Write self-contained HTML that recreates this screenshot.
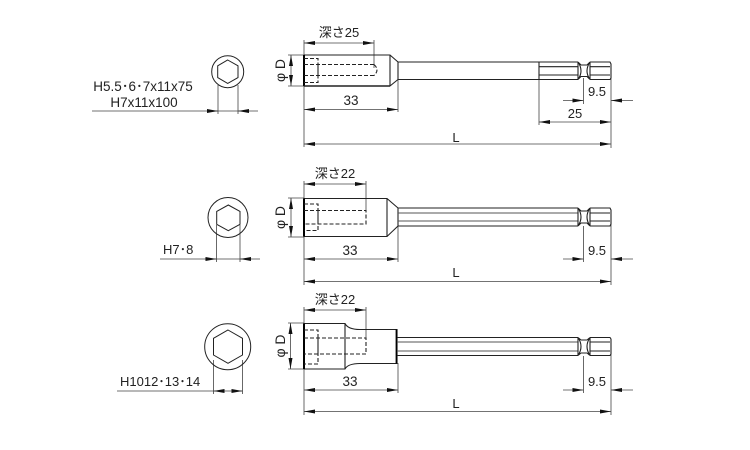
<!DOCTYPE html>
<html><head><meta charset="utf-8"><style>
html,body{margin:0;padding:0;background:#fff}
svg{display:block}
text{font-family:"Liberation Sans","Noto Sans CJK JP",sans-serif;font-size:13px;fill:#222}
</style></head><body>
<svg width="750" height="450" viewBox="0 0 750 450" xmlns="http://www.w3.org/2000/svg">
<defs>
<marker id="a" viewBox="0 0 11 4" refX="11" refY="2" markerWidth="11" markerHeight="4" orient="auto-start-reverse" markerUnits="userSpaceOnUse"><path d="M0 0L11 2L0 4Z" fill="#111"/></marker>
</defs>

<!-- Extension lines -->
<g fill="none" stroke="#444" stroke-width="0.8">
<path d="M304 40V147M374 40V68M288 55H304M288 86H304M398 80V112M539 79V125M583.5 78V104M611 70V148"/>
<path d="M304 181V285M366 181V210M288 198H304M288 237H304M398 226V262M583.5 226V262M611 210V285"/>
<path d="M304 307V415M366 307V338M288 323H304M288 369H304M398 363V393M583.5 356V393M611 340V415"/>
<path d="M92 111H258M218 85V114M238 85V114M160 259H260M216.500 225V262M240 225V262M117 391H242.500M213.500 360V394M242.500 360V394"/>
</g>

<!-- Dimension lines with arrowheads -->
<g fill="none" stroke="#444" stroke-width="0.8" marker-start="url(#a)" marker-end="url(#a)">
<path d="M304 43H374"/><path d="M304 109.500H398"/><path d="M304 144H611"/><path d="M539 122H611"/><path d="M291 55V86"/>
<path d="M304 184H366"/><path d="M304 259H398"/><path d="M304 281.500H611"/><path d="M291 198V237"/>
<path d="M304 310H366"/><path d="M304 390H398"/><path d="M304 411.500H611"/><path d="M290.500 323V369"/>
</g>
<g fill="none" stroke="#444" stroke-width="0.8" marker-end="url(#a)">
<path d="M563 100.500H583.500"/><path d="M633 100.500H611"/>
<path d="M563 259H583.500"/><path d="M633 259H611"/>
<path d="M563 390H583.500"/><path d="M633 390H611"/>
<path d="M207 111H218"/><path d="M249 111H238"/>
<path d="M205 259H216.500"/><path d="M251 259H240"/>
<path d="M224 391H213.500"/><path d="M232 391H242.500"/>
</g>

<!-- Bit 1 -->
<g fill="none" stroke="#222" stroke-width="1.100">
<path d="M304 55H390L398 62H539M304 86H390L398 79.500H539M390 55V86M398 62V79.500"/>
<path d="M304 55V86" stroke="#000" stroke-width="2"/>
<path d="M304 86H390" stroke-width="1.400"/>
<path d="M539 62V79.500M539 62H578M539 79.500H578M539 66.700H578M539 75H578M578 62V79.500M578 62Q584 71 578 79.500M590 62Q584 71 590 79.500M578 62L581 65H587L590 62M578 79.500L581 76.500H587L590 79.500M590 62H610L611 64V78L610 79.500H590M590 66.700H610M590 75H610M590 62V79.500"/>
<path d="M304 58.500H318V82.500H304M304 64.500H374M304 75.500H374M318 64.500V75.500M374 64.500Q380 70 374 75.500" stroke-dasharray="4 2"/>
</g>

<!-- Bit 2 -->
<g fill="none" stroke="#222" stroke-width="1.100">
<path d="M304 198.500H387L398 208H578M304 236.500H387L398 226H578M387 198.500V236.500M398 208V226"/>
<path d="M304 198.500V236.500" stroke="#000" stroke-width="2"/>
<path d="M398 213H578M398 221H578" stroke="#555"/>
<path d="M578 208V226M578 208Q584 217 578 226M590 208Q584 217 590 226M578 208L581 211H587L590 208M578 226L581 223H587L590 226M590 208H610L611 210V224L610 226H590M590 213H610M590 221H610M590 208V226"/>
<path d="M304 204H318V230.500H304M304 210.500H366V224H304M318 210.500V224" stroke-dasharray="4 2"/>
</g>

<!-- Bit 3 -->
<g fill="none" stroke="#222" stroke-width="1.100">
<path d="M304 323.500H345Q348 329.500 360 329.500H397V363.500H360Q348 363.500 345 369H304M345 323.500V369"/>
<path d="M304 323.500V369" stroke="#000" stroke-width="2"/>
<path d="M396.500 329.500V363.500" stroke="#000" stroke-width="1.800"/>
<path d="M397 337.500H578M397 355.500H578"/>
<path d="M397 342H578M397 351H578" stroke="#555"/>
<path d="M578 337.500V355.500M578 337.500Q584 346.500 578 355.500M590 337.500Q584 346.500 590 355.500M578 337.500L581 340H587L590 337.500M578 355.500L581 353H587L590 355.500M590 337.500H610L611 339V354L610 355.500H590M590 342H610M590 351H610M590 337.500V355.500"/>
<path d="M304 330H318V364H304M304 338H366V354H304M318 338V354" stroke-dasharray="4 2"/>
</g>

<!-- End views -->
<g fill="none" stroke="#222" stroke-width="1">
<circle cx="227.700" cy="71.700" r="16"/>
<path d="M227.700 60L238 65.800V77.600L227.700 83.400L217.700 77.600V65.800Z"/>
<circle cx="228" cy="217.500" r="20"/>
<path d="M228.300 205L240 211.400V224.300L228.300 230.700L216.700 224.300V211.400Z"/>
<circle cx="227.700" cy="346.700" r="23"/>
<path d="M228 330L242.500 338.300V355L228 363.300L213.500 355V338.300Z"/>
</g>

<!-- Labels -->
<text x="339" y="37" text-anchor="middle">深さ25</text>
<text x="351" y="105" text-anchor="middle" font-size="13.500" style="font-size:13.500px">33</text>
<text x="597" y="96" text-anchor="middle">9.5</text>
<text x="575" y="118" text-anchor="middle">25</text>
<text x="456" y="142" text-anchor="middle">L</text>
<text transform="translate(285 70.500) rotate(-90)" text-anchor="middle" style="font-size:14px">φ D</text>

<text x="335" y="178" text-anchor="middle">深さ22</text>
<text x="350" y="255" text-anchor="middle" style="font-size:13.500px">33</text>
<text x="597" y="255" text-anchor="middle">9.5</text>
<text x="456" y="277" text-anchor="middle">L</text>
<text transform="translate(285 217.500) rotate(-90)" text-anchor="middle" style="font-size:14px">φ D</text>

<text x="335" y="304" text-anchor="middle">深さ22</text>
<text x="350" y="386" text-anchor="middle" style="font-size:13.500px">33</text>
<text x="597" y="386" text-anchor="middle">9.5</text>
<text x="456" y="408" text-anchor="middle">L</text>
<text transform="translate(285 346) rotate(-90)" text-anchor="middle" style="font-size:14px">φ D</text>

<text x="143" y="91" text-anchor="middle" style="font-size:13.500px">H5.5･6･7x11x75</text>
<text x="144" y="107" text-anchor="middle" style="font-size:13.500px">H7x11x100</text>
<text x="163" y="254">H7･8</text>
<text x="120" y="386">H1012･13･14</text>
</svg>
</body></html>
